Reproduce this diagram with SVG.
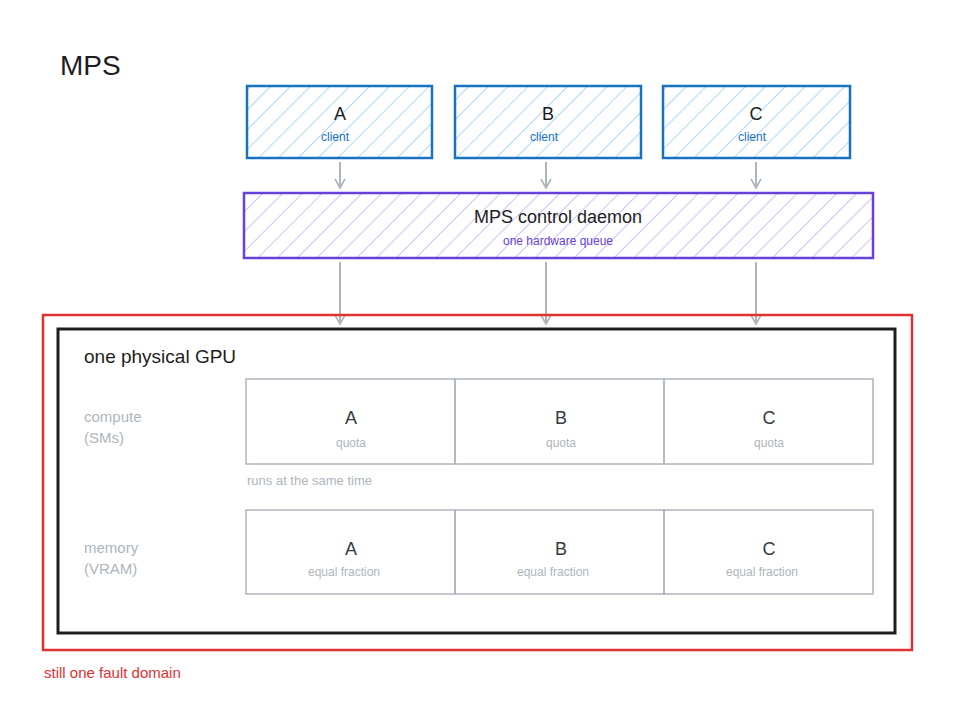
<svg xmlns="http://www.w3.org/2000/svg" width="955" height="727" viewBox="0 0 955 727">
<defs>
<pattern id="hb" patternUnits="userSpaceOnUse" width="14" height="14" patternTransform="rotate(45)"><line x1="0" y1="0" x2="0" y2="14" stroke="#74c0fc" stroke-width="1.2"/></pattern>
<pattern id="hp" patternUnits="userSpaceOnUse" width="14" height="14" patternTransform="rotate(45)"><line x1="0" y1="0" x2="0" y2="14" stroke="#b197fc" stroke-width="1.2"/></pattern>
<marker id="ar" viewBox="0 0 12 12" refX="10" refY="6" markerWidth="12" markerHeight="12" markerUnits="userSpaceOnUse" orient="auto"><path d="M1,1 L10,6 L1,11" fill="none" stroke="#adb5bd" stroke-width="1.6"/></marker>
</defs>
<style>
text{font-family:"Liberation Sans",Arial,sans-serif}
.cl{fill:url(#hb);stroke:#1971c2;stroke-width:2.5}
.big{font-size:18px;fill:#1e1e1e;text-anchor:middle}
.sm{font-size:12px;text-anchor:middle}
.gb{fill:none;stroke:#adb5bd;stroke-width:1.5}
.gl{font-size:15px;fill:#adb5bd}
.gt{font-size:18px;fill:#343a40;text-anchor:middle}
.gs{font-size:12px;fill:#adb5bd;text-anchor:middle}
.con{stroke:#adb5bd;stroke-width:2;fill:none;marker-end:url(#ar)}
</style>
<rect width="955" height="727" fill="#fff"/>
<text x="60" y="75" font-size="28" fill="#1e1e1e">MPS</text>
<g id="clientA"><rect class="cl" x="247" y="86" width="185" height="72"/><text class="big" x="340" y="120">A</text><text class="sm" x="335" y="141" fill="#1971c2">client</text></g>
<g id="clientB"><rect class="cl" x="455" y="86" width="186" height="72"/><text class="big" x="548" y="120">B</text><text class="sm" x="544" y="141" fill="#1971c2">client</text></g>
<g id="clientC"><rect class="cl" x="663" y="86" width="187" height="72"/><text class="big" x="756" y="120">C</text><text class="sm" x="752" y="141" fill="#1971c2">client</text></g>
<g id="daemon"><rect x="244" y="193" width="629" height="65" fill="url(#hp)" stroke="#6741d9" stroke-width="2.5"/><text class="big" x="558" y="223">MPS control daemon</text><text class="sm" x="558" y="245" fill="#6741d9">one hardware queue</text></g>
<g id="connectors">
<line class="con" x1="340" y1="162" x2="340" y2="188"/>
<line class="con" x1="546" y1="162" x2="546" y2="188"/>
<line class="con" x1="756" y1="162" x2="756" y2="188"/>
<line class="con" x1="340" y1="262" x2="340" y2="324"/>
<line class="con" x1="546" y1="262" x2="546" y2="324"/>
<line class="con" x1="756" y1="262" x2="756" y2="324"/>
</g>
<g id="fault"><rect x="43" y="315" width="869" height="335" fill="none" stroke="#e03131" stroke-width="2.5"/><text x="44" y="678" font-size="15" fill="#e03131">still one fault domain</text></g>
<g id="gpu"><rect x="58" y="329" width="837" height="304" fill="none" stroke="#1e1e1e" stroke-width="3"/><text x="84" y="363" font-size="19" fill="#1e1e1e">one physical GPU</text></g>
<text class="gl" x="84" y="422">compute</text><text class="gl" x="84" y="443">(SMs)</text>
<text class="gl" x="84" y="553">memory</text><text class="gl" x="84" y="574">(VRAM)</text>
<g id="qA"><rect class="gb" x="246" y="379" width="209" height="85"/><text class="gt" x="351" y="424">A</text><text class="gs" x="351" y="447">quota</text></g>
<g id="qB"><rect class="gb" x="455" y="379" width="209" height="85"/><text class="gt" x="561" y="424">B</text><text class="gs" x="561" y="447">quota</text></g>
<g id="qC"><rect class="gb" x="664" y="379" width="209" height="85"/><text class="gt" x="769" y="424">C</text><text class="gs" x="769" y="447">quota</text></g>
<text x="247" y="485" font-size="13" fill="#adb5bd">runs at the same time</text>
<g id="mA"><rect class="gb" x="246" y="510" width="209" height="84"/><text class="gt" x="351" y="555">A</text><text class="gs" x="344" y="576">equal fraction</text></g>
<g id="mB"><rect class="gb" x="455" y="510" width="209" height="84"/><text class="gt" x="561" y="555">B</text><text class="gs" x="553" y="576">equal fraction</text></g>
<g id="mC"><rect class="gb" x="664" y="510" width="209" height="84"/><text class="gt" x="769" y="555">C</text><text class="gs" x="762" y="576">equal fraction</text></g>
</svg>
